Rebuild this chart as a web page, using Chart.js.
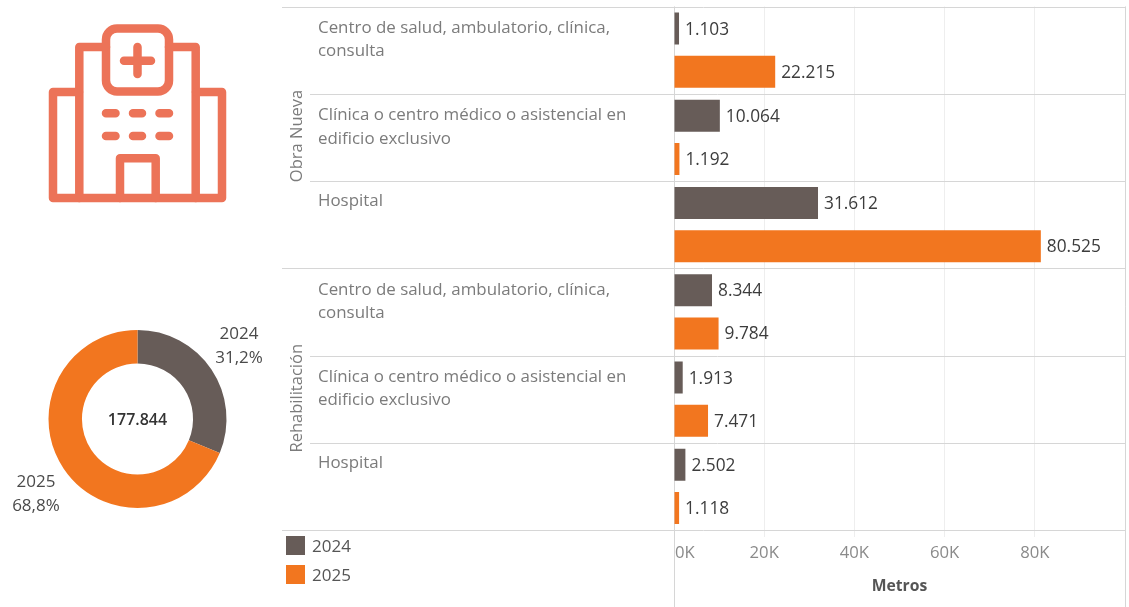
<!DOCTYPE html>
<html>
<head>
<meta charset="utf-8">
<title>Metros</title>
<script src="https://cdn.jsdelivr.net/npm/chart.js@4"></script>
<style>
  body { margin: 0; background: #fff; }
  canvas, svg { position: absolute; display: block; }
</style>
</head>
<body>
<svg width="280" height="220" style="left:0;top:0" fill="none" stroke="#ec7358" stroke-width="8.5" stroke-linecap="round" stroke-linejoin="round">
  <rect x="106" y="28.5" width="63" height="63" rx="11"/>
  <path d="M124 60.7H151M137.5 47V74"/>
  <path d="M106 47H79.3V198M169 47H195.7V198"/>
  <path d="M79 92H53V198H222V92H196"/>
  <path d="M120 198V158.3H155.7V198"/>
  <path d="M106 113.3H115.5M133 113.3H142M159.5 113.3H169M106 136H115.5M133 136H142M159.5 136H169"/>
</svg>
<canvas id="barChart" width="1129" height="607" style="left:0;top:0"></canvas>
<canvas id="donutChart" width="275" height="218" style="left:0;top:310px"></canvas>
<script>
const groups = ['Obra Nueva', 'Rehabilitación'];
const rowLabels = [
  ['Centro de salud, ambulatorio, clínica,', 'consulta'],
  ['Clínica o centro médico o asistencial en', 'edificio exclusivo'],
  ['Hospital'],
  ['Centro de salud, ambulatorio, clínica,', 'consulta'],
  ['Clínica o centro médico o asistencial en', 'edificio exclusivo'],
  ['Hospital'],
];
const years = ['2024', '2025'];
const values2024 = [1103, 10064, 31612, 8344, 1913, 2502];
const values2025 = [22215, 1192, 80525, 9784, 7471, 1118];
const xTickLabels = ['0K', '20K', '40K', '60K', '80K'];
const donutValues = [55538, 122306];
const donutPercents = ['31,2%', '68,8%'];
const donutTotal = '177.844';

const GREY = '#675c58';
const ORANGE = '#f2761f';
const FONT = '"Open Sans", sans-serif';
const LINE = '#d6d6d6';

function withDots(n) {
  return String(n).replace(/\B(?=(\d{3})+$)/g, '.');
}

const tablePlugin = {
  id: 'table',
  beforeDatasetsDraw(chart) {
    const ctx = chart.ctx;
    const area = chart.chartArea;
    const rowH = area.height / rowLabels.length;
    ctx.save();
    ctx.strokeStyle = LINE;
    ctx.lineWidth = 1;
    // row separators, the ones between groups run further left
    for (let i = 0; i <= rowLabels.length; i++) {
      const y = Math.round(area.top + i * rowH) + 0.5;
      ctx.beginPath();
      ctx.moveTo(i % 3 === 0 ? 282 : 310, y);
      ctx.lineTo(area.right, y);
      ctx.stroke();
    }
    // axis lines go down to the bottom of the sheet
    [area.left, area.right].forEach(x => {
      ctx.beginPath();
      ctx.moveTo(Math.round(x) + 0.5, area.top);
      ctx.lineTo(Math.round(x) + 0.5, 607);
      ctx.stroke();
    });
    ctx.restore();
  },
  afterDraw(chart) {
    const ctx = chart.ctx;
    const area = chart.chartArea;
    const rowH = area.height / rowLabels.length;
    ctx.save();
    ctx.textBaseline = 'middle';

    // row labels
    ctx.font = '16.9px ' + FONT;
    ctx.fillStyle = '#7b7b7b';
    ctx.textAlign = 'left';
    rowLabels.forEach((lines, i) => {
      const top = chart.scales.y.getPixelForTick(i) - rowH / 2;
      lines.forEach((txt, j) => {
        ctx.fillText(txt, 318, top + (lines.length > 1 ? 21.5 : 20.5) + j * 23.5);
      });
    });

    // group labels, rotated
    ctx.font = '16.5px ' + FONT;
    ctx.textAlign = 'center';
    groups.forEach((g, i) => {
      ctx.save();
      ctx.translate(297, area.top + rowH * (i * 3) + (i === 0 ? 129.5 : 130));
      ctx.rotate(-Math.PI / 2);
      ctx.fillText(g, 0, 0);
      ctx.restore();
    });

    // value labels next to the bars
    ctx.font = '17.3px ' + FONT;
    ctx.fillStyle = '#3c3c3c';
    ctx.textAlign = 'left';
    chart.data.datasets.forEach((ds, d) => {
      chart.getDatasetMeta(d).data.forEach((bar, i) => {
        ctx.fillText(withDots(ds.data[i]), bar.x + 6, bar.y + 1);
      });
    });

    // legend under the table
    ctx.font = '17px ' + FONT;
    chart.data.datasets.forEach((ds, d) => {
      const y = 536 + d * 29;
      ctx.fillStyle = ds.backgroundColor;
      ctx.fillRect(286, y, 19, 19);
      ctx.fillStyle = '#555555';
      ctx.fillText(ds.label, 312, y + 11.5);
    });
    ctx.restore();
  },
};

new Chart(document.getElementById('barChart'), {
  type: 'bar',
  data: {
    labels: rowLabels,
    datasets: [
      { label: years[0], data: values2024, backgroundColor: GREY },
      { label: years[1], data: values2025, backgroundColor: ORANGE },
    ],
  },
  options: {
    indexAxis: 'y',
    responsive: false,
    animation: false,
    categoryPercentage: 86 / 87.2,
    barPercentage: 32 / 43,
    layout: { padding: { top: 6.5, right: 4 } },
    plugins: { legend: { display: false }, tooltip: { enabled: false } },
    scales: {
      x: {
        min: 0,
        max: 99000,
        afterFit(scale) {
          scale.height = 77;
          scale.paddingLeft = 0;
          scale.paddingRight = 0;
        },
        border: { display: false },
        grid: { color: '#eeeeee', tickLength: 7 },
        ticks: {
          stepSize: 20000,
          maxRotation: 0,
          padding: 6,
          color: '#8a8a8a',
          font: { family: FONT, size: 16.7 },
          // the 0K label sits to the right of the axis line, last tick is only the scale end
          callback: (v, i) => (i === 0 ? '     ' : '') + (xTickLabels[i] || ''),
        },
        title: {
          display: true,
          text: 'Metros',
          color: '#555555',
          padding: { top: 0, bottom: 11 },
          font: { family: FONT, size: 15.7, weight: 'bold' },
        },
      },
      y: {
        afterFit(scale) { scale.width = 674; },
        border: { display: false },
        grid: { display: false },
        ticks: { display: false },
      },
    },
  },
  plugins: [tablePlugin],
});

const donutTextPlugin = {
  id: 'donutText',
  afterDraw(chart) {
    const ctx = chart.ctx;
    const arcs = chart.getDatasetMeta(0).data;
    ctx.save();
    ctx.textAlign = 'center';
    ctx.textBaseline = 'middle';
    ctx.font = '600 16px ' + FONT;
    ctx.fillStyle = '#333333';
    ctx.fillText(donutTotal, arcs[0].x, arcs[0].y + 1);
    ctx.font = '17px ' + FONT;
    ctx.fillStyle = '#4a4a4a';
    arcs.forEach((arc, i) => {
      const mid = (arc.startAngle + arc.endAngle) / 2 - 2.2 * Math.PI / 180;
      const x = arc.x + Math.cos(mid) * 125.5;
      const y = arc.y + Math.sin(mid) * 125.5;
      ctx.fillText(chart.data.labels[i], x, y - 11);
      ctx.fillText(donutPercents[i], x, y + 13);
    });
    ctx.restore();
  },
};

new Chart(document.getElementById('donutChart'), {
  type: 'doughnut',
  data: {
    labels: years,
    datasets: [{
      data: donutValues,
      backgroundColor: [GREY, ORANGE],
      borderWidth: 0,
    }],
  },
  options: {
    responsive: false,
    animation: false,
    radius: 89,
    cutout: '62.4%',
    plugins: { legend: { display: false }, tooltip: { enabled: false } },
  },
  plugins: [donutTextPlugin],
});
</script>
</body>
</html>
